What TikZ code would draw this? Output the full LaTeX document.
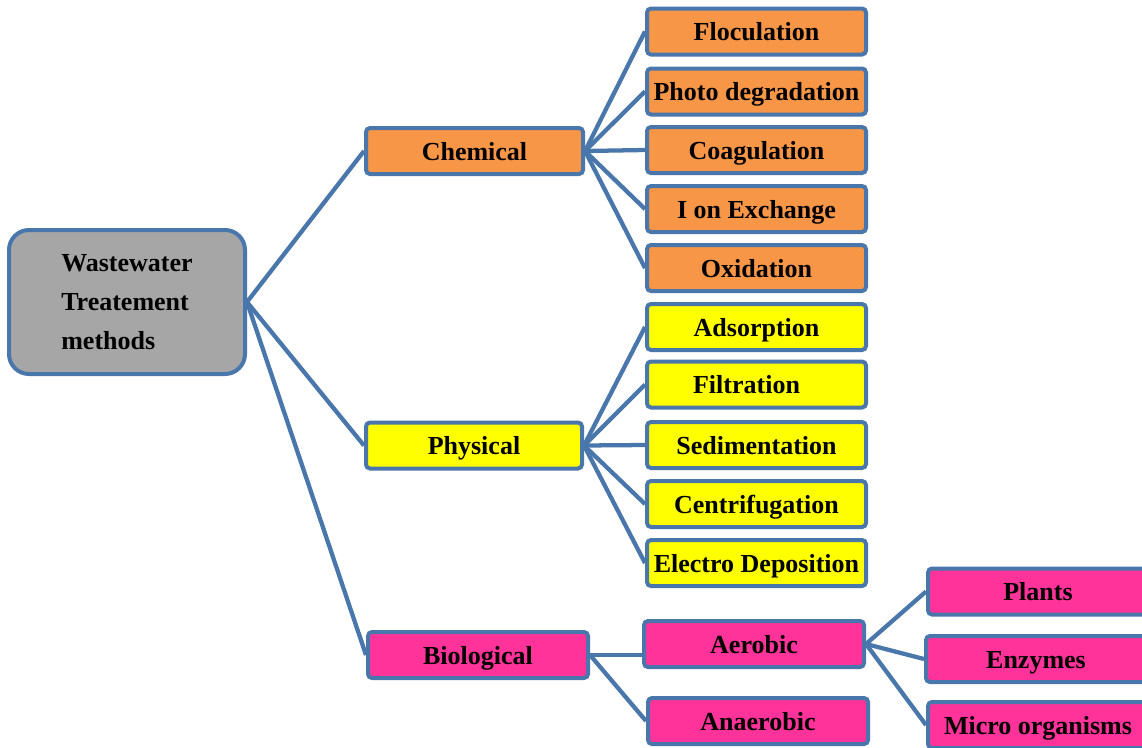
\documentclass[tikz,border=0pt]{standalone}
\usepackage{fontspec}
\setmainfont{Liberation Serif}
\definecolor{lineblue}{HTML}{4A77AB}
\definecolor{orng}{HTML}{F79646}
\definecolor{yel}{HTML}{FFFF00}
\definecolor{pnk}{HTML}{FF3399}
\definecolor{gry}{HTML}{A6A6A6}
\tikzset{
  box/.style={draw=lineblue, line width=3pt, rounded corners=3pt, inner sep=0pt,
    minimum width=219*0.75pt, minimum height=46*0.75pt,
    text height=15pt, text depth=1pt,
    font=\bfseries\fontsize{19.5}{23}\selectfont},
  chem/.style={box, fill=orng},
  phys/.style={box, fill=yel},
  bio/.style={box, fill=pnk},
  conn/.style={draw=lineblue, line width=3.2pt}
}
\begin{document}
\begin{tikzpicture}[x=0.75pt,y=-0.75pt]
\useasboundingbox (0,0) rectangle (1142,747);
\clip (0,0) rectangle (1142,747);
\fill[white] (0,0) rectangle (1142,747);
% root
\node[box, fill=gry, rounded corners=15pt, minimum width=236*0.75pt, minimum height=144*0.75pt,
  text height=, text depth=, align=left, font=\bfseries\fontsize{19.5}{29}\selectfont] (root) at (127,302)
  {Wastewater\\Treatement\\methods};
% level 1
\node[chem, minimum width=217*0.75pt] (chemical) at (474.5,151) {Chemical};
\node[phys, minimum width=216*0.75pt] (physical) at (474,445.5) {Physical};
\node[bio, minimum width=220*0.75pt] (biological) at (478,655) {Biological};
% chemical children
\node[chem] (floc) at (756.5,31.5) {Floculation};
\node[chem] (photo) at (756.5,91.5) {Photo degradation};
\node[chem] (coag) at (756.5,150) {Coagulation};
\node[chem] (ion) at (756.5,209) {I on Exchange};
\node[chem] (oxi) at (756.5,268) {Oxidation};
% physical children
\node[phys] (ads) at (756.5,327) {Adsorption};
\node[phys] (filt) at (756.5,384.5) {Filtration\rule{15pt}{0pt}};
\node[phys] (sed) at (756.5,445) {Sedimentation};
\node[phys] (cent) at (756.5,504) {Centrifugation};
\node[phys] (elec) at (756.5,563) {Electro Deposition};
% biological children
\node[bio, minimum width=220*0.75pt] (aer) at (754,644) {Aerobic};
\node[bio, minimum width=220*0.75pt] (anaer) at (758,721) {Anaerobic};
% aerobic children
\node[bio, minimum width=220*0.75pt] (plants) at (1038,591.5) {Plants};
\node[bio, minimum width=220*0.75pt] (enz) at (1036,659) {Enzymes};
\node[bio, minimum width=220*0.75pt] (micro) at (1038,725) {Micro organisms};
% connectors
\draw[conn] (root.east) -- (chemical.west);
\draw[conn] (root.east) -- (physical.west);
\draw[conn] (root.east) -- (biological.west);
\foreach \c in {floc,photo,coag,ion,oxi}
  \draw[conn] (chemical.east) -- (\c.west);
\foreach \c in {ads,filt,sed,cent,elec}
  \draw[conn] (physical.east) -- (\c.west);
\draw[conn] (biological.east) -- (biological.east -| aer.west);
\draw[conn] (biological.east) -- (anaer.west);
\foreach \c in {plants,enz,micro}
  \draw[conn] (aer.east) -- (\c.west);
\end{tikzpicture}
\end{document}
